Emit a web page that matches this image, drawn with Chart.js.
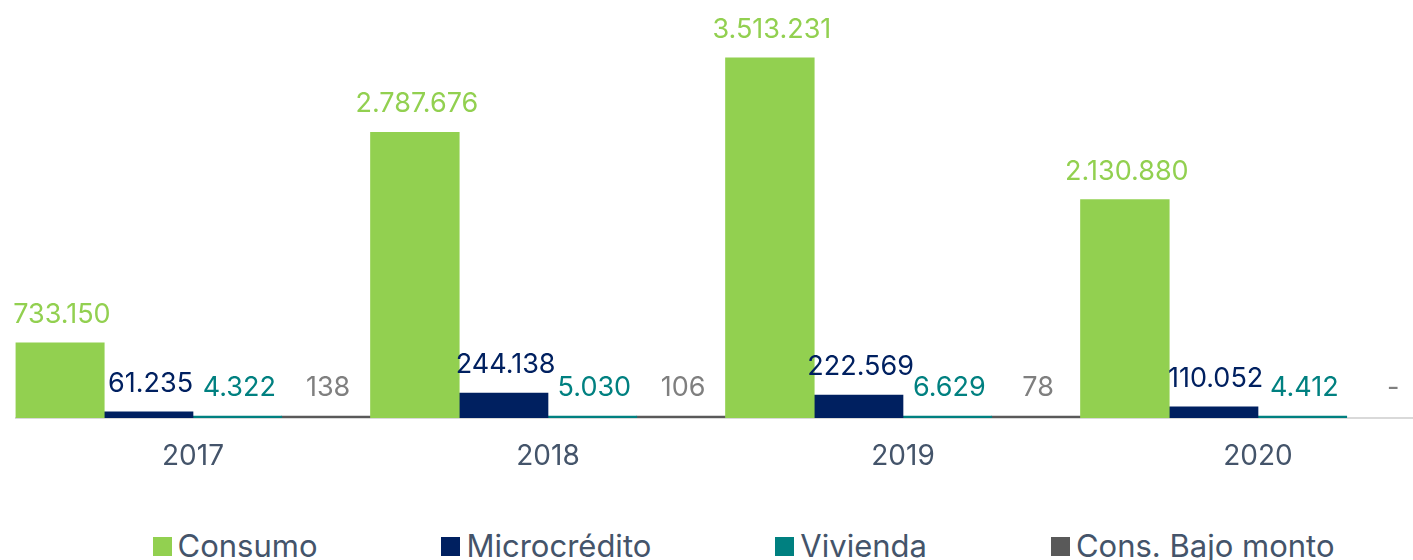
<!DOCTYPE html>
<html>
<head>
<meta charset="utf-8">
<script src="https://cdn.jsdelivr.net/npm/chart.js@4.4.1/dist/chart.umd.min.js"></script>
<style>
  html, body { margin: 0; padding: 0; background: #fff; }
  #wrap { position: relative; width: 1413px; height: 560px; overflow: hidden; }
  #chart { position: absolute; left: 0; top: 0; }
  #legend {
    position: absolute; left: 0; top: 528px; width: 1413px; box-sizing: border-box;
    padding-left: 74px; display: flex; justify-content: center; gap: 124px;
    font-family: Inter, sans-serif; font-size: 31px; color: #44546A; line-height: 36px;
  }
  #legend span.item { display: flex; align-items: center; white-space: nowrap; }
  #legend span.box { width: 19px; height: 19px; margin-right: 6px; display: inline-block; }
</style>
</head>
<body>
<div id="wrap">
  <canvas id="chart" width="1440" height="500"></canvas>
  <div id="legend"></div>
</div>
<script>
const years = ['2017', '2018', '2019', '2020'];
const seriesNames = ['Consumo', 'Microcrédito', 'Vivienda', 'Cons. Bajo monto'];
const consumo = [733150, 2787676, 3513231, 2130880];
const microcredito = [61235, 244138, 222569, 110052];
const vivienda = [4322, 5030, 6629, 4412];
const bajoMonto = [138, 106, 78, 0];

const barColors = ['#92D050', '#002060', '#008080', '#595959'];
const labelColors = ['#92D050', '#002060', '#008080', '#7F7F7F'];
const FONT = 'Inter, sans-serif';

function fmt(v) {
    if (v === 0) return '-';
    return String(v).replace(/\B(?=(\d{3})+(?!\d))/g, '.');
}

const valueLabels = {
    id: 'valueLabels',
    afterDatasetsDraw(chart) {
        const ctx = chart.ctx;
        ctx.save();
        ctx.font = '27px ' + FONT;
        ctx.textAlign = 'center';
        ctx.textBaseline = 'middle';
        chart.data.datasets.forEach((ds, i) => {
            const meta = chart.getDatasetMeta(i);
            meta.data.forEach((bar, j) => {
                ctx.fillStyle = labelColors[i];
                ctx.fillText(fmt(ds.data[j]), bar.x + 2, bar.y - 28);
            });
        });
        ctx.restore();
    }
};

const allSeries = [consumo, microcredito, vivienda, bajoMonto];

var ctx = document.getElementById('chart').getContext('2d');
new Chart(ctx, {
    type: 'bar',
    data: {
        labels: years,
        datasets: allSeries.map((d, i) => ({
            label: seriesNames[i],
            data: d,
            backgroundColor: c => c.raw === 0 ? 'rgba(0,0,0,0)' : barColors[i],
            borderWidth: 0,
            barPercentage: 1,
            categoryPercentage: 1,
            minBarLength: 2
        }))
    },
    options: {
        responsive: false,
        animation: false,
        layout: { padding: { left: 15.5, right: 4.5, top: 8, bottom: 0 } },
        plugins: {
            legend: { display: false },
            tooltip: { enabled: false }
        },
        scales: {
            x: {
                grid: { display: false, drawTicks: false },
                border: { color: '#D9D9D9', width: 2 },
                ticks: {
                    color: '#44546A',
                    padding: 22,
                    font: { family: FONT, size: 28 }
                },
                afterFit: s => { s.height = 82; }
            },
            y: {
                display: false,
                beginAtZero: true,
                min: 0,
                max: 4000000
            }
        }
    },
    plugins: [valueLabels]
});

// legend built from the same series names / colours
const legend = document.getElementById('legend');
seriesNames.forEach((name, i) => {
    const item = document.createElement('span');
    item.className = 'item';
    const box = document.createElement('span');
    box.className = 'box';
    box.style.background = barColors[i];
    item.appendChild(box);
    item.appendChild(document.createTextNode(name));
    legend.appendChild(item);
});
</script>
</body>
</html>
